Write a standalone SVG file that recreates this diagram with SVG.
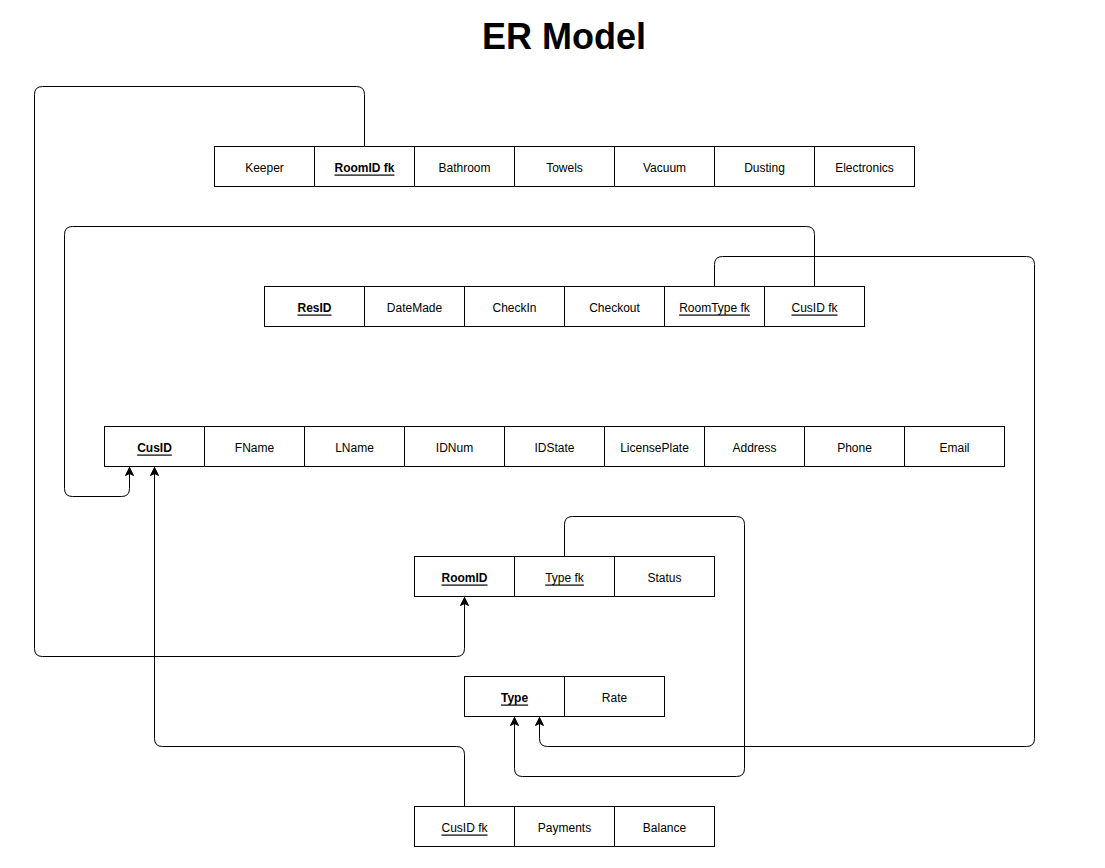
<svg xmlns="http://www.w3.org/2000/svg" width="1105" height="868" viewBox="0 0 1105 868">
<defs>
<style>
.c{fill:#fff;stroke:#000;stroke-width:1}
.t{font-family:"Liberation Sans",Arial,sans-serif;font-size:12px;fill:#000;text-anchor:middle;dominant-baseline:central}
.k{font-weight:bold;text-decoration:underline}
.u{text-decoration:underline}
.e{fill:none;stroke:#000;stroke-width:1}
.title{font-family:"Liberation Sans",Arial,sans-serif;font-size:36px;font-weight:bold;text-anchor:middle}
</style>
<marker id="a" viewBox="0 0 10 10" refX="9" refY="5" markerWidth="10" markerHeight="10" markerUnits="userSpaceOnUse" orient="auto">
<path d="M1,1 L9,5 L1,9 L3,5 Z" fill="#000" stroke="#000" stroke-width="1"/>
</marker>
</defs>
<rect width="1105" height="868" fill="#fff"/>
<text class="title" x="564" y="49">ER Model</text>

<g transform="translate(0.5,0.5)">
<g id="connectors">
<path class="e" d="M364,146 V94 Q364,86 356,86 H42 Q34,86 34,94 V648 Q34,656 42,656 H456 Q464,656 464,648 V597" marker-end="url(#a)"/>
<path class="e" d="M814,286 V234 Q814,226 806,226 H72 Q64,226 64,234 V488 Q64,496 72,496 H121 Q129,496 129,488 V467" marker-end="url(#a)"/>
<path class="e" d="M714,286 V264 Q714,256 722,256 H1026 Q1034,256 1034,264 V738 Q1034,746 1026,746 H547 Q539,746 539,738 V717" marker-end="url(#a)"/>
<path class="e" d="M564,556 V524 Q564,516 572,516 H736 Q744,516 744,524 V768 Q744,776 736,776 H522 Q514,776 514,768 V717" marker-end="url(#a)"/>
<path class="e" d="M464,806 V754 Q464,746 456,746 H162 Q154,746 154,738 V467" marker-end="url(#a)"/>
</g>

<g id="housekeeping">
<rect class="c" x="214" y="146" width="100" height="40"/><text class="t" x="264" y="167">Keeper</text>
<rect class="c" x="314" y="146" width="100" height="40"/><text class="t k" x="364" y="167">RoomID fk</text>
<rect class="c" x="414" y="146" width="100" height="40"/><text class="t" x="464" y="167">Bathroom</text>
<rect class="c" x="514" y="146" width="100" height="40"/><text class="t" x="564" y="167">Towels</text>
<rect class="c" x="614" y="146" width="100" height="40"/><text class="t" x="664" y="167">Vacuum</text>
<rect class="c" x="714" y="146" width="100" height="40"/><text class="t" x="764" y="167">Dusting</text>
<rect class="c" x="814" y="146" width="100" height="40"/><text class="t" x="864" y="167">Electronics</text>
</g>

<g id="reservation">
<rect class="c" x="264" y="286" width="100" height="40"/><text class="t k" x="314" y="307">ResID</text>
<rect class="c" x="364" y="286" width="100" height="40"/><text class="t" x="414" y="307">DateMade</text>
<rect class="c" x="464" y="286" width="100" height="40"/><text class="t" x="514" y="307">CheckIn</text>
<rect class="c" x="564" y="286" width="100" height="40"/><text class="t" x="614" y="307">Checkout</text>
<rect class="c" x="664" y="286" width="100" height="40"/><text class="t u" x="714" y="307">RoomType fk</text>
<rect class="c" x="764" y="286" width="100" height="40"/><text class="t u" x="814" y="307">CusID fk</text>
</g>

<g id="customer">
<rect class="c" x="104" y="426" width="100" height="40"/><text class="t k" x="154" y="447">CusID</text>
<rect class="c" x="204" y="426" width="100" height="40"/><text class="t" x="254" y="447">FName</text>
<rect class="c" x="304" y="426" width="100" height="40"/><text class="t" x="354" y="447">LName</text>
<rect class="c" x="404" y="426" width="100" height="40"/><text class="t" x="454" y="447">IDNum</text>
<rect class="c" x="504" y="426" width="100" height="40"/><text class="t" x="554" y="447">IDState</text>
<rect class="c" x="604" y="426" width="100" height="40"/><text class="t" x="654" y="447">LicensePlate</text>
<rect class="c" x="704" y="426" width="100" height="40"/><text class="t" x="754" y="447">Address</text>
<rect class="c" x="804" y="426" width="100" height="40"/><text class="t" x="854" y="447">Phone</text>
<rect class="c" x="904" y="426" width="100" height="40"/><text class="t" x="954" y="447">Email</text>
</g>

<g id="room">
<rect class="c" x="414" y="556" width="100" height="40"/><text class="t k" x="464" y="577">RoomID</text>
<rect class="c" x="514" y="556" width="100" height="40"/><text class="t u" x="564" y="577">Type fk</text>
<rect class="c" x="614" y="556" width="100" height="40"/><text class="t" x="664" y="577">Status</text>
</g>

<g id="roomtype">
<rect class="c" x="464" y="676" width="100" height="40"/><text class="t k" x="514" y="697">Type</text>
<rect class="c" x="564" y="676" width="100" height="40"/><text class="t" x="614" y="697">Rate</text>
</g>

<g id="payment">
<rect class="c" x="414" y="806" width="100" height="40"/><text class="t u" x="464" y="827">CusID fk</text>
<rect class="c" x="514" y="806" width="100" height="40"/><text class="t" x="564" y="827">Payments</text>
<rect class="c" x="614" y="806" width="100" height="40"/><text class="t" x="664" y="827">Balance</text>
</g>
</g>
</svg>
